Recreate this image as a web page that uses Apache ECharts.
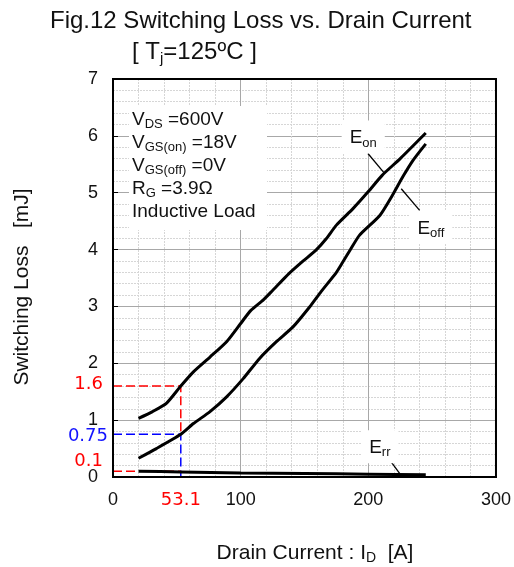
<!DOCTYPE html>
<html><head><meta charset="utf-8">
<script src="https://cdn.jsdelivr.net/npm/echarts@6/dist/echarts.min.js"></script>
<style>html,body{margin:0;padding:0;background:#fff}#c{width:514px;height:567px}</style>
</head><body><div id="c"></div>
<script>
// ---- data ----
const xTicks = [0, 100, 200, 300];
const yTicks = [0, 1, 2, 3, 4, 5, 6, 7];
const eonI = [20, 31, 42, 53.1, 63, 76, 89, 100, 108, 118, 125, 138, 149, 159, 167, 175, 188, 200, 211, 225, 245];
const eonE = [1.03, 1.15, 1.30, 1.60, 1.85, 2.11, 2.38, 2.70, 2.93, 3.12, 3.28, 3.58, 3.80, 3.99, 4.19, 4.43, 4.72, 5.02, 5.31, 5.60, 6.05];
const eoffI = [20, 34, 53.1, 63, 76, 89, 102, 115, 128, 141, 154, 163, 175, 180, 186, 193, 209, 219, 227, 235, 245];
const eoffE = [0.33, 0.50, 0.75, 0.94, 1.15, 1.41, 1.73, 2.09, 2.38, 2.64, 2.99, 3.26, 3.60, 3.78, 4.00, 4.25, 4.60, 4.96, 5.28, 5.57, 5.86];
const errI = [20, 53.1, 100, 150, 200, 245];
const errE = [0.10, 0.09, 0.07, 0.06, 0.05, 0.04];
const markI = 53.1, markEon = 1.6, markEoff = 0.75, markErr = 0.1;
const eonLeader = [[199.7, 5.69], [212.7, 5.34]];
const eoffLeader = [[225.8, 5.07], [240.2, 4.69]];
const errLeader = [[216.7, 0.30], [224.5, 0.065]];
const eonLabelAt = [196, 5.98];
const eoffLabelAt = [249, 4.39];
const errLabelAt = [209, 0.53];

const FONT = 'Liberation Sans';
const TXT = '#111';
const zip = (a, b) => a.map((v, i) => [v, b[i]]);

const chart = echarts.init(document.getElementById('c'), null, {renderer: 'canvas'});
const dash = (color) => ({type: 'line', symbol: 'none', silent: true, z: 3,
  lineStyle: {color: color, width: 1.5, type: [9, 4]}});
const curve = (data) => ({type: 'line', symbol: 'none', smooth: 0.2, data: data, z: 4,
  lineStyle: {color: '#000', width: 3}});
const leader = (data) => ({type: 'line', symbol: 'none', data: data, z: 4,
  lineStyle: {color: '#000', width: 1.3}});

chart.setOption({
  animation: false,
  backgroundColor: '#fff',
  grid: {left: 113, right: 17, top: 79, bottom: 90, show: true, borderColor: '#000', borderWidth: 2, z: 5},
  xAxis: {
    type: 'value', min: xTicks[0], max: xTicks[xTicks.length - 1], interval: 100,
    axisLine: {show: true, lineStyle: {color: '#000', width: 2}},
    axisTick: {show: false},
    minorTick: {show: false, splitNumber: 5},
    splitLine: {show: true, lineStyle: {color: '#a8a8a8', width: 1}},
    minorSplitLine: {show: true, lineStyle: {color: '#d6d6d6', width: 1, type: [2, 1]}},
    axisLabel: {fontFamily: FONT, fontSize: 18, color: TXT, margin: 14}
  },
  yAxis: {
    type: 'value', min: yTicks[0], max: yTicks[yTicks.length - 1], interval: 1,
    axisLine: {show: true, lineStyle: {color: '#000', width: 2}},
    axisTick: {show: true, inside: true, length: 5, lineStyle: {color: '#000'}},
    minorTick: {show: false, splitNumber: 5},
    splitLine: {show: true, lineStyle: {color: '#a8a8a8', width: 1}},
    minorSplitLine: {show: true, lineStyle: {color: '#d6d6d6', width: 1, type: [2, 1]}},
    axisLabel: {fontFamily: FONT, fontSize: 18, color: TXT, margin: 15}
  },
  series: [
    Object.assign(dash('#ff0000'), {data: [[0, markEon], [markI, markEon], [markI, markEoff]]}),
    Object.assign(dash('#0000ff'), {data: [[0, markEoff], [markI, markEoff], [markI, 0]]}),
    Object.assign(dash('#ff0000'), {data: [[0, markErr], [markI, markErr]]}),
    curve(zip(eonI, eonE)),
    curve(zip(eoffI, eoffE)),
    curve(zip(errI, errE)),
    leader(eonLeader),
    leader(eoffLeader),
    leader(errLeader)
  ]
});

const px = (p) => chart.convertToPixel({gridIndex: 0}, p);
const eLabel = (pos, sub) => {
  const p = px(pos);
  return {type: 'text', x: p[0], y: p[1], z: 10,
    style: {text: '{m|E}{s|' + sub + '}', align: 'center', verticalAlign: 'middle',
      backgroundColor: '#fff', padding: [6, 8, 4, 8],
      rich: {m: {fontFamily: FONT, fontSize: 19, lineHeight: 23, fill: TXT, verticalAlign: 'middle'},
             s: {fontFamily: FONT, fontSize: 13, lineHeight: 10, fill: TXT, verticalAlign: 'bottom'}}}};
};
const redLab = (text, color, x, y, align) => ({type: 'text', x: x, y: y, z: 10,
  style: {text: text, fill: color, font: '18px "DejaVu Sans"', align: align || 'right', verticalAlign: 'middle'}});

const pEon = px([0, markEon]), pEoff = px([0, markEoff]), pErr = px([0, markErr]), pI = px([markI, 0]);

chart.setOption({
  graphic: [
    {type: 'text', x: 50, y: 21.5, style: {text: 'Fig.12 Switching Loss vs. Drain Current', fill: TXT,
      font: '24px "Liberation Sans"', verticalAlign: 'middle'}},
    {type: 'text', x: 132, y: 52.5, style: {text: '{m|[ T}{s|j}{m|=125ºC ]}', verticalAlign: 'middle',
      rich: {m: {fontFamily: FONT, fontSize: 24, lineHeight: 28, fill: TXT, verticalAlign: 'middle'},
             s: {fontFamily: FONT, fontSize: 15, lineHeight: 12, fill: TXT, verticalAlign: 'bottom'}}}},
    {type: 'rect', z: 1, shape: {x: 129, y: 106, width: 138, height: 124}, style: {fill: '#fff'}},
    {type: 'text', x: 132, y: 108, z: 10, style: {
      text: '{m|V}{s|DS}{m| =600V}\n{m|V}{s|GS(on)}{m| =18V}\n{m|V}{s|GS(off)}{m| =0V}\n{m|R}{s|G}{m| =3.9Ω}\n{m|Inductive Load}',
      verticalAlign: 'top',
      rich: {m: {fontFamily: FONT, fontSize: 19, lineHeight: 23, fill: TXT, verticalAlign: 'middle'},
             s: {fontFamily: FONT, fontSize: 13, lineHeight: 10, fill: TXT, verticalAlign: 'bottom'}}}},
    eLabel(eonLabelAt, 'on'),
    eLabel(eoffLabelAt, 'off'),
    eLabel(errLabelAt, 'rr'),
    redLab('1.6', '#ff0000', 103, pEon[1] - 2),
    redLab('0.75', '#1414ff', 108, pEoff[1] + 2),
    redLab('0.1', '#ff0000', 103, pErr[1] - 10),
    redLab('53.1', '#ff0000', pI[0], 500, 'center'),
    {type: 'text', x: 315, y: 553, style: {text: '{m|Drain Current : I}{s|D}{m|  [A]}', align: 'center', verticalAlign: 'middle',
      rich: {m: {fontFamily: FONT, fontSize: 21, lineHeight: 24, fill: TXT, verticalAlign: 'middle'},
             s: {fontFamily: FONT, fontSize: 14, lineHeight: 11, fill: TXT, verticalAlign: 'bottom'}}}},
    {type: 'text', x: 22, y: 287, rotation: Math.PI / 2, style: {text: 'Switching Loss   [mJ]', fill: TXT,
      font: '21px "Liberation Sans"', align: 'center', verticalAlign: 'middle'}}
  ]
});
</script></body></html>
